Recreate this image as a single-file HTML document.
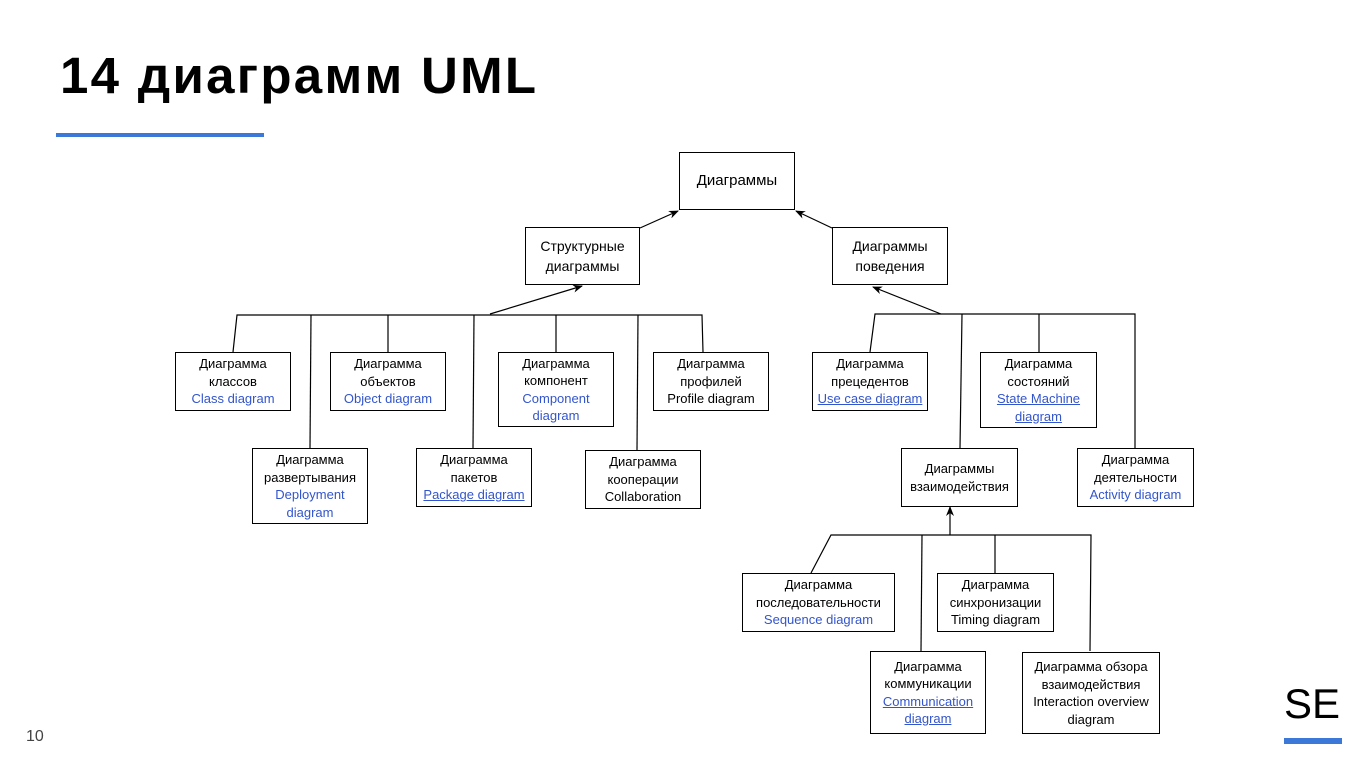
<!DOCTYPE html>
<html><head><meta charset="utf-8"><style>
body{margin:0;width:1366px;height:768px;background:#fff;position:relative;overflow:hidden;font-family:"Liberation Sans",Arial,sans-serif}
.t{position:absolute;left:60px;top:46px;font-size:51px;font-weight:bold;letter-spacing:2.3px;color:#000;line-height:60px;white-space:nowrap}
.b{position:absolute;box-sizing:border-box;border:1px solid #000;background:#fff;display:flex;align-items:center;justify-content:center;text-align:center;font-size:13px;line-height:17.5px;color:#000}
.b>div{white-space:nowrap}
.l{color:#3355cc}
.u{color:#3355cc;text-decoration:underline}
svg{position:absolute;left:0;top:0}
</style></head><body>
<div class="t">14 диаграмм UML</div>
<div style="position:absolute;left:56px;top:133px;width:208px;height:4px;background:#3c78d8"></div>
<div style="position:absolute;left:26px;top:728px;font-size:16px;color:#444">10</div>
<div style="position:absolute;left:1284px;top:680px;font-size:42px;color:#000;line-height:48px">SE</div>
<div style="position:absolute;left:1284px;top:738px;width:58px;height:6px;background:#3c78d8"></div>
<svg width="1366" height="768">
<defs><marker id="a" markerWidth="10" markerHeight="8" refX="9" refY="4" orient="auto" markerUnits="userSpaceOnUse"><path d="M0,0 L10,4 L0,8 L3,4Z" fill="#000"/></marker></defs>
<g stroke="#000" stroke-width="1.2" fill="none">
<line x1="640" y1="228" x2="678" y2="211" marker-end="url(#a)"/>
<line x1="832" y1="228" x2="796" y2="211" marker-end="url(#a)"/>
<line x1="490" y1="314" x2="582" y2="286" marker-end="url(#a)"/>
<polyline points="233,352 237,315 702,315 703,352"/>
<line x1="311" y1="315" x2="310" y2="448"/>
<line x1="388" y1="315" x2="388" y2="352"/>
<line x1="474" y1="315" x2="473" y2="448"/>
<line x1="556" y1="315" x2="556" y2="352"/>
<line x1="638" y1="315" x2="637" y2="450"/>
<line x1="941" y1="314" x2="873" y2="287" marker-end="url(#a)"/>
<polyline points="870,352 875,314 1135,314 1135,448"/>
<line x1="962" y1="314" x2="960" y2="448"/>
<line x1="1039" y1="314" x2="1039" y2="352"/>
<line x1="950" y1="535" x2="950" y2="507" marker-end="url(#a)"/>
<polyline points="811,573 831,535 1091,535 1090,651"/>
<line x1="922" y1="535" x2="921" y2="651"/>
<line x1="995" y1="535" x2="995" y2="573"/>
</g></svg>
<div class="b" style="left:679px;top:152px;width:116px;height:58px;font-size:15px"><div>Диаграммы</div></div>
<div class="b" style="left:525px;top:227px;width:115px;height:58px;font-size:14px;line-height:20px"><div>Структурные<br>диаграммы</div></div>
<div class="b" style="left:832px;top:227px;width:116px;height:58px;font-size:14px;line-height:20px"><div>Диаграммы<br>поведения</div></div>
<div class="b" style="left:175px;top:352px;width:116px;height:59px"><div>Диаграмма<br>классов<br><span class="l">Class diagram</span></div></div>
<div class="b" style="left:330px;top:352px;width:116px;height:59px"><div>Диаграмма<br>объектов<br><span class="l">Object diagram</span></div></div>
<div class="b" style="left:498px;top:352px;width:116px;height:75px"><div>Диаграмма<br>компонент<br><span class="l">Component<br>diagram</span></div></div>
<div class="b" style="left:653px;top:352px;width:116px;height:59px"><div>Диаграмма<br>профилей<br>Profile diagram</div></div>
<div class="b" style="left:252px;top:448px;width:116px;height:76px"><div>Диаграмма<br>развертывания<br><span class="l">Deployment<br>diagram</span></div></div>
<div class="b" style="left:416px;top:448px;width:116px;height:59px"><div>Диаграмма<br>пакетов<br><span class="u">Package diagram</span></div></div>
<div class="b" style="left:585px;top:450px;width:116px;height:59px"><div>Диаграмма<br>кооперации<br>Collaboration</div></div>
<div class="b" style="left:812px;top:352px;width:116px;height:59px"><div>Диаграмма<br>прецедентов<br><span class="u">Use case diagram</span></div></div>
<div class="b" style="left:980px;top:352px;width:117px;height:76px"><div>Диаграмма<br>состояний<br><span class="u">State Machine<br>diagram</span></div></div>
<div class="b" style="left:901px;top:448px;width:117px;height:59px"><div>Диаграммы<br>взаимодействия</div></div>
<div class="b" style="left:1077px;top:448px;width:117px;height:59px"><div>Диаграмма<br>деятельности<br><span class="l">Activity diagram</span></div></div>
<div class="b" style="left:742px;top:573px;width:153px;height:59px"><div>Диаграмма<br>последовательности<br><span class="l">Sequence diagram</span></div></div>
<div class="b" style="left:937px;top:573px;width:117px;height:59px"><div>Диаграмма<br>синхронизации<br>Timing diagram</div></div>
<div class="b" style="left:870px;top:651px;width:116px;height:83px"><div>Диаграмма<br>коммуникации<br><span class="u">Communication<br>diagram</span></div></div>
<div class="b" style="left:1022px;top:652px;width:138px;height:82px"><div>Диаграмма обзора<br>взаимодействия<br>Interaction overview<br>diagram</div></div>
</body></html>
